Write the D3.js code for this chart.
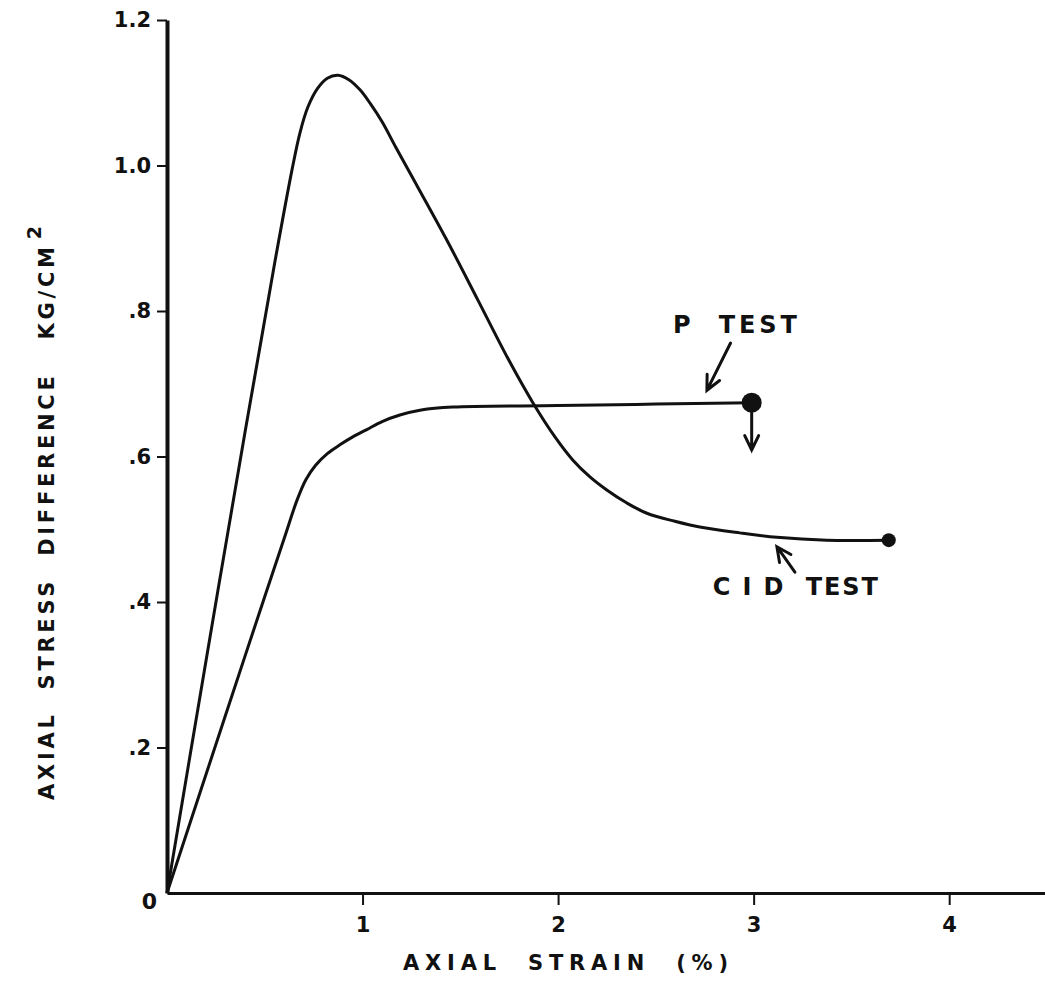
<!DOCTYPE html>
<html>
<head>
<meta charset="utf-8">
<script src="https://cdn.jsdelivr.net/npm/d3@7"></script>
<style>
body { margin: 0; background: #fff; }
svg text { font-family: "DejaVu Sans", sans-serif; font-weight: bold; fill: #111; white-space: pre; }
</style>
</head>
<body>
<svg id="chart" width="1045" height="981"></svg>
<script>
// values: axial strain (%) and stress difference (kg/cm2)
const cidStrain = [0, 0.2, 0.4, 0.55, 0.64, 0.68, 0.72, 0.77, 0.82, 0.874, 0.93, 0.987, 1.04, 1.1, 1.17, 1.242, 1.426, 1.590, 1.743, 1.871, 1.984, 2.076, 2.163, 2.249, 2.352, 2.454, 2.597, 2.725, 2.929, 3.119, 3.374, 3.691];
const cidStress = [0, 0.32, 0.635, 0.865, 0.995, 1.045, 1.080, 1.106, 1.120, 1.124, 1.118, 1.104, 1.085, 1.060, 1.025, 0.990, 0.900, 0.815, 0.735, 0.674, 0.627, 0.595, 0.572, 0.554, 0.536, 0.522, 0.511, 0.503, 0.495, 0.489, 0.485, 0.485];
const pStrain = [0, 0.30, 0.45, 0.60, 0.665, 0.71, 0.76, 0.82, 0.884, 0.95, 1.022, 1.1, 1.191, 1.3, 1.462, 2.0, 2.5, 2.99];
const pStress = [0, 0.245, 0.367, 0.488, 0.540, 0.568, 0.588, 0.604, 0.616, 0.627, 0.637, 0.648, 0.657, 0.664, 0.668, 0.670, 0.672, 0.674];
const xTicks = [1, 2, 3, 4];
const yTicks = [0, 0.2, 0.4, 0.6, 0.8, 1.0, 1.2];
const yTickLabels = ["0", ".2", ".4", ".6", ".8", "1.0", "1.2"];

const svg = d3.select("#chart");
const x = d3.scaleLinear().domain([0, 4.49]).range([167, 1045]);
const y = d3.scaleLinear().domain([0, 1.2]).range([893, 20]);

// axes
const xAxis = svg.append("g")
  .attr("transform", "translate(0," + y(0) + ")")
  .call(d3.axisBottom(x).tickValues(xTicks).tickFormat(d3.format("d")).tickSize(12).tickSizeOuter(0).tickPadding(12));
xAxis.select(".domain").attr("stroke", "#111").attr("stroke-width", 3);
xAxis.selectAll(".tick line").attr("stroke", "#111").attr("stroke-width", 2);
xAxis.selectAll(".tick text").attr("font-size", 21).attr("font-family", null);

const yAxis = svg.append("g")
  .attr("transform", "translate(" + x(0) + ",0)")
  .call(d3.axisLeft(y).tickValues(yTicks).tickFormat((d, i) => yTickLabels[i]).tickSize(10).tickSizeOuter(0).tickPadding(6));
yAxis.select(".domain").attr("stroke", "#111").attr("stroke-width", 4);
yAxis.selectAll(".tick line").attr("stroke", "#111").attr("stroke-width", 2);
yAxis.selectAll(".tick text").attr("font-size", 21).attr("font-family", null);
// the zero label sits in the corner
yAxis.selectAll(".tick").filter(d => d === 0).select("line").remove();
yAxis.selectAll(".tick").filter(d => d === 0).select("text").attr("dx", 6).attr("dy", "0.7em").attr("font-size", 22);

// axis titles
svg.append("text")
  .attr("x", 403).attr("y", 970)
  .attr("font-size", 21)
  .attr("textLength", 325).attr("lengthAdjust", "spacing")
  .text("AXIAL  STRAIN  (%)");

const yt = svg.append("text")
  .attr("transform", "translate(54,800) rotate(-90)")
  .attr("font-size", 21);
yt.append("tspan")
  .attr("textLength", 553).attr("lengthAdjust", "spacing")
  .text("AXIAL  STRESS  DIFFERENCE   KG/CM");
yt.append("tspan").attr("dx", 4).attr("dy", -13).attr("font-size", 19).text("2");

// curves
const line = d3.line().x(d => x(d[0])).y(d => y(d[1])).curve(d3.curveCatmullRom.alpha(0.5));
const cid = cidStrain.map((s, i) => [s, cidStress[i]]);
const ptest = pStrain.map((s, i) => [s, pStress[i]]);

svg.append("path").datum(cid).attr("d", line)
  .attr("fill", "none").attr("stroke", "#111").attr("stroke-width", 3);
svg.append("path").datum(ptest).attr("d", line)
  .attr("fill", "none").attr("stroke", "#111").attr("stroke-width", 3);

// end points
const cidEnd = cid[cid.length - 1];
const pEnd = ptest[ptest.length - 1];
svg.append("circle").attr("cx", x(cidEnd[0])).attr("cy", y(cidEnd[1])).attr("r", 7).attr("fill", "#111");
svg.append("circle").attr("cx", x(pEnd[0])).attr("cy", y(pEnd[1])).attr("r", 10).attr("fill", "#111");

// arrows (open V heads at the second point)
function arrow(a, b, head) {
  const x1 = x(a[0]), y1 = y(a[1]), x2 = x(b[0]), y2 = y(b[1]);
  const ang = Math.atan2(y2 - y1, x2 - x1);
  const h1 = [x2 - head * Math.cos(ang - 0.45), y2 - head * Math.sin(ang - 0.45)];
  const h2 = [x2 - head * Math.cos(ang + 0.45), y2 - head * Math.sin(ang + 0.45)];
  svg.append("path")
    .attr("d", "M" + x1 + "," + y1 + "L" + x2 + "," + y2 + "M" + h1 + "L" + x2 + "," + y2 + "L" + h2)
    .attr("fill", "none").attr("stroke", "#111").attr("stroke-width", 3).attr("stroke-linecap", "round");
}
arrow([2.99, 0.66], [2.99, 0.609], 16);
arrow([2.882, 0.756], [2.761, 0.691], 16);
arrow([3.211, 0.441], [3.119, 0.476], 16);

// labels
svg.append("text").attr("x", x(2.587)).attr("y", y(0.770))
  .attr("font-size", 24).attr("textLength", 124).attr("lengthAdjust", "spacing")
  .text("P  TEST");
svg.append("text").attr("x", x(2.791)).attr("y", y(0.410))
  .attr("font-size", 24).attr("textLength", 165).attr("lengthAdjust", "spacing")
  .text("C I D  TEST");
</script>
</body>
</html>
